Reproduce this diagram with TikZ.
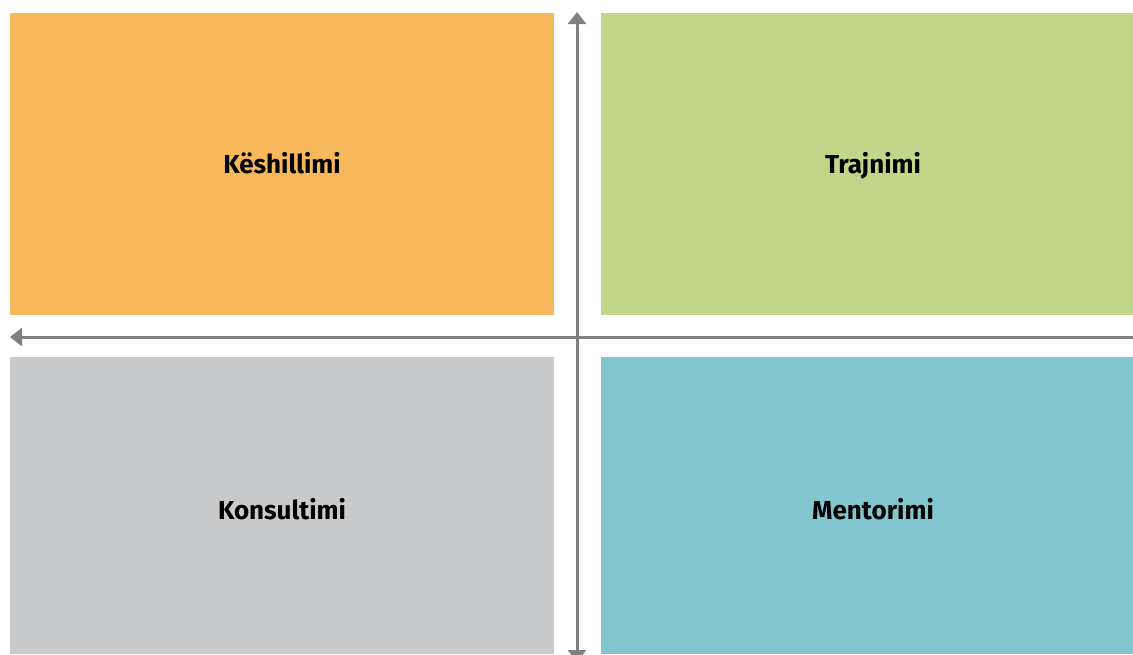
\documentclass[tikz,border=0pt]{standalone}
\usepackage{fontspec}
\setmainfont{Fira Sans}
\usetikzlibrary{arrows.meta}
\definecolor{quadorange}{HTML}{F6B85A}
\definecolor{quadgreen}{HTML}{C2D68A}
\definecolor{quadgray}{HTML}{C9CACC}
\definecolor{quadteal}{HTML}{84C6D0}
\definecolor{axisgray}{HTML}{808083}
\tikzset{
  quad/.style={fill=#1, draw=none, minimum width=544pt, minimum height=302pt,
    inner sep=0pt, text height=22pt, text depth=3pt,
    font=\fontsize{26}{31}\selectfont\bfseries},
  lowquad/.style={quad=#1, minimum height=297pt, text height=30pt},
  axis/.style={draw=axisgray, line width=3pt, -{Triangle[width=18pt,length=12pt]}}
}
\begin{document}
\begin{tikzpicture}[x=1pt,y=-1pt]
            \useasboundingbox (0,0) rectangle (1133,654);
            % Draw the four quadrants
            \node[quad=quadorange] (keshillimi) at (282,163.5) {Këshillimi};
            \node[quad=quadgreen] (trajnimi) at (873,163.5) {Trajnimi};
            \node[lowquad=quadgray] (konsultimi) at (282,505.5) {Konsultimi};
            \node[lowquad=quadteal] (mentorimi) at (873,505.5) {Mentorimi};
            % Draw the axes
            \coordinate (top) at (577,12);
            \coordinate (bottom) at (577,662);
            \coordinate (left) at (10,337);
            \coordinate (right) at (1133,337);
            \coordinate (mid) at (577,337);
            \draw[axis] (mid) -- (top);
            \draw[axis] (mid) -- (bottom);
            \draw[axis] (right) -- (left);
        \end{tikzpicture}
\end{document}
